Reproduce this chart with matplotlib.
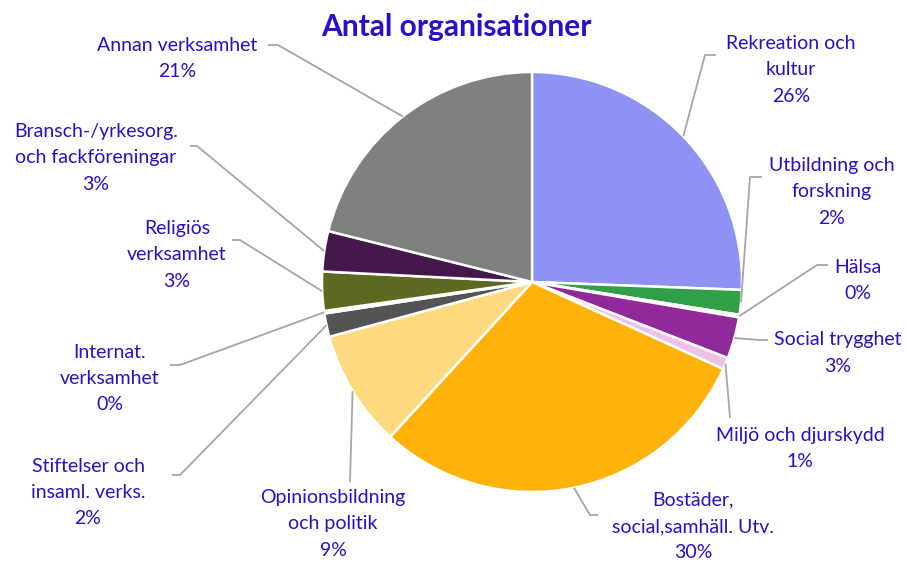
import matplotlib
matplotlib.use("Agg")
import matplotlib.pyplot as plt
import numpy as np

categories = ["Rekreation och\nkultur", "Utbildning och\nforskning", "Hälsa", "Social trygghet",
              "Miljö och djurskydd", "Bostäder,\nsocial,samhäll. Utv.", "Opinionsbildning\noch politik",
              "Stiftelser och\ninsaml. verks.", "Internat.\nverksamhet", "Religiös\nverksamhet",
              "Bransch-/yrkesorg.\noch fackföreningar", "Annan verksamhet"]
values = [25.6, 1.9, 0.2, 3.2, 0.9, 30.0, 9.0, 1.8, 0.2, 3.0, 3.1, 21.1]
pct_labels = ["26%", "2%", "0%", "3%", "1%", "30%", "9%", "2%", "0%", "3%", "3%", "21%"]
colors = ["#8E93F3", "#30A048", "#8CE08C", "#902A9A", "#F0C0E8", "#FFB30A", "#FFD97F",
          "#545454", "#1A8A9A", "#5E6820", "#44184A", "#808080"]

W, H = 907, 561
TXT = "#2A0FC8"
plt.rcParams['font.family'] = ['Lato', 'DejaVu Sans']

fig = plt.figure(figsize=(W / 100, H / 100), dpi=100)
ax = fig.add_axes([0, 0, 1, 1])

def P(x, y):
    return x, H - y

cx, cy = 532, 282
R = 210
wedges, _ = ax.pie(values, colors=colors, startangle=90, counterclock=False,
                   center=P(cx, cy), radius=R, frame=True,
                   wedgeprops=dict(edgecolor="white", linewidth=1.8))
ax.set_xlim(0, W)
ax.set_ylim(0, H)
ax.set_aspect('equal')
ax.axis('off')

# layout: label centre (x, first-line centre y), elbow point, end point (pixel coords)
layout = [
    ((791, 43), (705, 55), (716, 55)),
    ((832, 165), (750, 177), (762, 177)),
    ((858, 267), (817, 265), (828, 265)),
    ((838, 340), (760, 340), (768, 340)),
    ((800, 435), (730, 418), (730, 418)),
    ((693, 500), (590, 515), (598, 515)),
    ((333, 497), (350, 482), (350, 482)),
    ((88, 466), (180, 475), (172, 475)),
    ((110, 352), (180, 365), (170, 365)),
    ((177, 228), (240, 240), (232, 240)),
    ((96, 131), (197, 146), (190, 146)),
    ((177, 45), (278, 45), (268, 45)),
]
LINE = 26.5

for w, cat, pct, (lab, elb, end) in zip(wedges, categories, pct_labels, layout):
    ang = np.deg2rad((w.theta1 + w.theta2) / 2)
    ax_, ay_ = w.center[0] + R * np.cos(ang), w.center[1] + R * np.sin(ang)
    ex, ey = P(*elb)
    nx, ny = P(*end)
    ax.plot([ax_, ex, nx], [ay_, ey, ny], color="#A6A6A6", lw=1.3, zorder=3,
            solid_capstyle='butt')
    lines = cat.split("\n") + [pct]
    for i, s in enumerate(lines):
        ax.text(*P(lab[0], lab[1] + i * LINE), s, ha="center", va="center",
                color=TXT, fontsize=14)

ax.text(*P(456, 27), "Antal organisationer", ha="center", va="center",
        color=TXT, fontsize=21.5, fontweight="bold")

fig.savefig("out.png", dpi=100)
